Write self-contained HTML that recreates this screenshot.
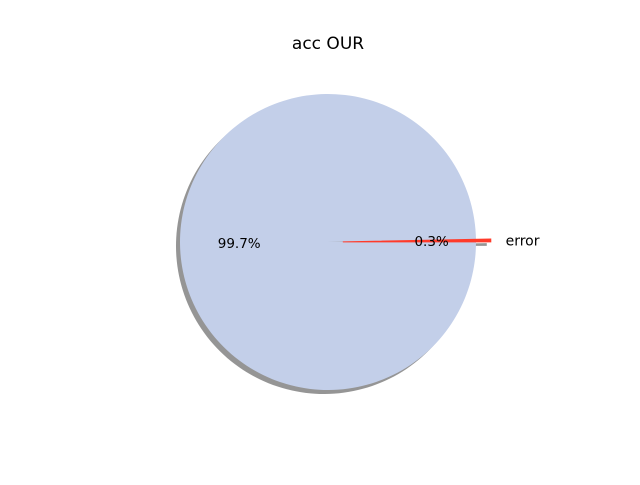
<!DOCTYPE html>
<html><head><meta charset="utf-8"><style>
body{margin:0;background:#fff;width:640px;height:480px;overflow:hidden}
text{font-family:"DejaVu Sans","Liberation Sans",sans-serif}
</style></head><body>
<svg id="chart" width="640" height="480">
<rect width="640" height="480" fill="#fff"/>
<text x="328" y="49" font-size="17" text-anchor="middle">acc OUR</text>
<g id="shadows"></g><g id="slices"></g><g id="labels"></g>
</svg>
<script>
const categories = ["", "error"];
const values = [99.7, 0.3];
const explodes = [0, 0.1];
const colors = ["#c3cfe9", "#ff3b2a"];
const cx = 328, cy = 242, R = 148;
const ns = "http://www.w3.org/2000/svg";
const total = values.reduce((a,b)=>a+b,0);
function pt(x,y,r,a){return [x+r*Math.cos(a), y-r*Math.sin(a)];}
function wedge(x,y,a0,a1){
  const p0=pt(x,y,R,a0), p1=pt(x,y,R,a1);
  const large=(a1-a0)>Math.PI?1:0;
  return `M${x},${y}L${p0[0]},${p0[1]}A${R},${R} 0 ${large} 0 ${p1[0]},${p1[1]}Z`;
}
let ang=0;
const sh=document.getElementById('shadows'), sl=document.getElementById('slices'), lb=document.getElementById('labels');
values.forEach((v,i)=>{
  // clockwise ordering
  const a1=ang, a0=ang-v/total*2*Math.PI; ang=a0;
  const mid=(a0+a1)/2;
  const ox=Math.cos(mid)*explodes[i]*R, oy=-Math.sin(mid)*explodes[i]*R;
  const x=cx+ox, y=cy+oy;
  const s=document.createElementNS(ns,'path');
  s.setAttribute('d',wedge(x-4,y+4,a0,a1));
  s.setAttribute('fill','#7a7a7a'); s.setAttribute('opacity','0.8');
  
  
  sh.appendChild(s);
  const p=document.createElementNS(ns,'path');
  p.setAttribute('d',wedge(x,y,a0,a1));
  p.setAttribute('fill',colors[i]);
  if(i===1){p.setAttribute('stroke',colors[i]);p.setAttribute('stroke-width','1');}
  
  
  sl.appendChild(p);
  const lp=pt(x,y,R*0.6,mid);
  const t=document.createElementNS(ns,'text');
  t.setAttribute('x',lp[0]); t.setAttribute('y',lp[1]+5);
  t.setAttribute('font-size','13.5'); t.setAttribute('text-anchor','middle');
  t.textContent=v.toFixed(1)+'%';
  
  
  lb.appendChild(t);
  if(categories[i]){
    const cp=pt(x,y,R*1.1,mid);
    const c=document.createElementNS(ns,'text');
    c.setAttribute('x',cp[0]); c.setAttribute('y',cp[1]+5);
    c.setAttribute('font-size','14');
    c.setAttribute('text-anchor',Math.cos(mid)>=0?'start':'end');
    c.textContent=categories[i];
    
    
    lb.appendChild(c);
  }
});
</script>
</body></html>
